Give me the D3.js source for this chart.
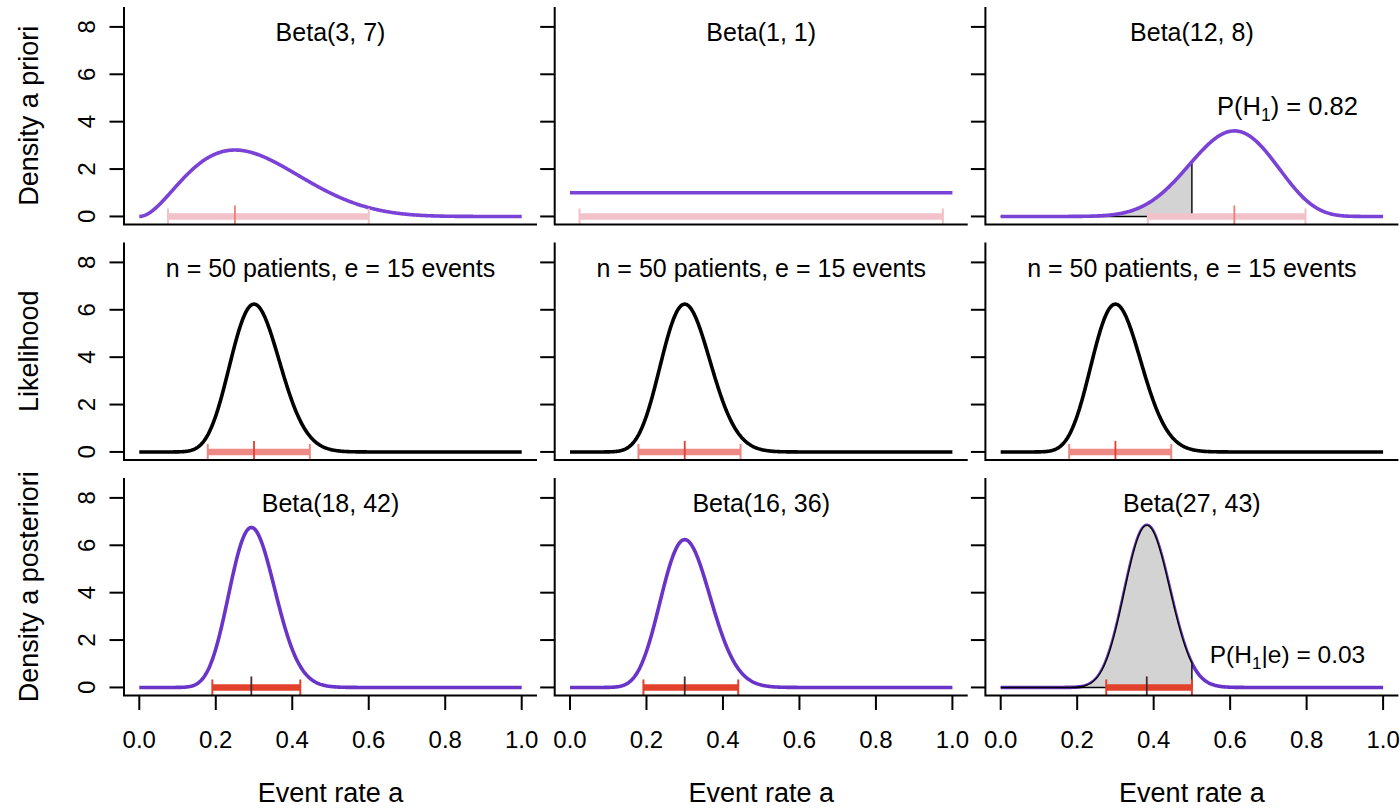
<!DOCTYPE html>
<html>
<head>
<meta charset="utf-8">
<script src="https://cdn.jsdelivr.net/npm/d3@7"></script>
<style>
  html, body { margin: 0; padding: 0; background: #fff; }
  svg { display: block; font-family: "Liberation Sans", Arial, sans-serif; }
</style>
</head>
<body>
<svg id="chart" width="1400" height="808"></svg>
<script>
// ---------------- data ----------------
const rowTitles = ["Density a priori", "Likelihood", "Density a posteriori"];
const xAxisTitle = "Event rate a";
const xTicks = [0, 0.2, 0.4, 0.6, 0.8, 1.0];
const yTicks = [0, 2, 4, 6, 8];

// prior Beta parameters (one per column)
const priorAlpha = [3, 1, 12];
const priorBeta  = [7, 1, 8];
// observed data
const nPatients = 50;
const nEvents = 15;
// posterior Beta parameters
const postAlpha = [18, 16, 27];
const postBeta  = [42, 36, 43];

// 95% intervals and centre marks
const priorLow   = [0.075, 0.025, 0.385];
const priorHigh  = [0.600, 0.975, 0.797];
const priorMode  = [0.25, null, 0.611];
const likeLow    = [0.179, 0.179, 0.179];
const likeHigh   = [0.446, 0.446, 0.446];
const likeCenter = [0.30, 0.30, 0.30];
const postLow    = [0.191, 0.192, 0.276];
const postHigh   = [0.421, 0.440, 0.500];
const postMode   = [0.293, 0.300, 0.382];

// hypothesis shading (only third column)
const shadeUpper = 0.5;
const probPrior = "0.82";
const probPost  = "0.03";

// ---------------- helpers ----------------
const LG = [0.99999999999980993, 676.5203681218851, -1259.1392167224028, 771.32342877765313,
  -176.61502916214059, 12.507343278686905, -0.13857109526572012, 9.9843695780195716e-6, 1.5056327351493116e-7];
function lgamma(z) {
  if (z < 0.5) return Math.log(Math.PI / Math.sin(Math.PI * z)) - lgamma(1 - z);
  z -= 1;
  let x = LG[0];
  for (let i = 1; i < 9; i++) x += LG[i] / (z + i);
  const t = z + 7.5;
  return 0.5 * Math.log(2 * Math.PI) + (z + 0.5) * Math.log(t) - t + Math.log(x);
}
function dbeta(x, a, b) {
  const lb = lgamma(a) + lgamma(b) - lgamma(a + b);
  const t1 = (a === 1) ? 0 : (x <= 0 ? -Infinity : (a - 1) * Math.log(x));
  const t2 = (b === 1) ? 0 : (x >= 1 ? -Infinity : (b - 1) * Math.log(1 - x));
  return Math.exp(t1 + t2 - lb);
}
const grid = d3.range(0, 1.0001, 0.002).map(v => Math.min(v, 1));

// ---------------- layout ----------------
const svg = d3.select("#chart");
const colLeft = c => 124 + c * 430.7;
const rowTop  = r => 7 + r * 235.5;
const panelW = 413, panelH = 217.5;

const purplePrior = "#7A42D6";
const purplePost  = "#6A34C8";
const ciStyles = [
  { bar: "#F2C1C9", cap: "#F2C1C9", mid: "#EC7F73" },
  { bar: "#EE8A85", cap: "#EE8A85", mid: "#E53B2E" },
  { bar: "#E2422C", cap: "#E2422C", mid: "#4A2A2A" }
];

for (let r = 0; r < 3; r++) {
  for (let c = 0; c < 3; c++) {
    const x = d3.scaleLinear().domain([-0.04, 1.04]).range([colLeft(c), colLeft(c) + panelW]);
    const y = d3.scaleLinear().domain([-0.34, 8.84]).range([rowTop(r) + panelH, rowTop(r)]);
    const g = svg.append("g");

    let a, b, color, low, high, mid;
    if (r === 0) { a = priorAlpha[c]; b = priorBeta[c]; color = purplePrior; low = priorLow[c]; high = priorHigh[c]; mid = priorMode[c]; }
    else if (r === 1) { a = nEvents + 1; b = nPatients - nEvents + 1; color = "#000"; low = likeLow[c]; high = likeHigh[c]; mid = likeCenter[c]; }
    else { a = postAlpha[c]; b = postBeta[c]; color = purplePost; low = postLow[c]; high = postHigh[c]; mid = postMode[c]; }

    const pts = grid.map(v => [v, dbeta(v, a, b)]);
    const line = d3.line().x(d => x(d[0])).y(d => y(d[1]));

    const shade = (c === 2 && r !== 1);
    const shadePts = pts.filter(d => d[0] <= shadeUpper);
    const area = [...shadePts, [shadeUpper, 0], [0, 0]];
    const drawShade = () => g.append("path")
      .attr("d", d3.line().x(d => x(d[0])).y(d => y(d[1]))(area) + "Z")
      .attr("fill", "#D3D3D3").attr("stroke", "#000").attr("stroke-width", 1.4);

    if (shade && r === 0) drawShade();
    g.append("path").attr("d", line(pts)).attr("fill", "none")
      .attr("stroke", color).attr("stroke-width", 3.6).attr("stroke-linejoin", "round");
    if (shade && r === 2) drawShade();

    // interval bar
    const st = ciStyles[r];
    const y0 = y(0);
    g.append("line").attr("x1", x(low)).attr("x2", x(high)).attr("y1", y0).attr("y2", y0)
      .attr("stroke", st.bar).attr("stroke-width", 6.5);
    [low, high].forEach(v => g.append("line").attr("x1", x(v)).attr("x2", x(v))
      .attr("y1", y0 - 8).attr("y2", y0 + 8).attr("stroke", st.cap).attr("stroke-width", 2));
    if (mid !== null) g.append("line").attr("x1", x(mid)).attr("x2", x(mid))
      .attr("y1", y0 - 11).attr("y2", y0 + 8).attr("stroke", st.mid).attr("stroke-width", 1.8);

    // L-shaped box
    g.append("path")
      .attr("d", `M${colLeft(c)},${rowTop(r)}V${rowTop(r) + panelH}H${colLeft(c) + panelW}`)
      .attr("fill", "none").attr("stroke", "#000").attr("stroke-width", 2);

    // y axis ticks and labels
    yTicks.forEach(t => {
      g.append("line").attr("x1", colLeft(c) - 14.5).attr("x2", colLeft(c))
        .attr("y1", y(t)).attr("y2", y(t)).attr("stroke", "#000").attr("stroke-width", 2);
      if (c === 0) g.append("text")
        .attr("transform", `translate(${colLeft(c) - 29},${y(t)}) rotate(-90)`)
        .attr("text-anchor", "middle").attr("font-size", 24).attr("fill", "#000").text(t);
    });
    if (c === 0) g.append("text")
      .attr("transform", `translate(${colLeft(c) - 86},${(rowTop(r) + rowTop(r) + panelH) / 2}) rotate(-90)`)
      .attr("text-anchor", "middle").attr("font-size", 27).attr("fill", "#000").text(rowTitles[r]);

    // x axis on bottom row
    if (r === 2) {
      const base = rowTop(r) + panelH;
      xTicks.forEach(t => {
        g.append("line").attr("x1", x(t)).attr("x2", x(t)).attr("y1", base).attr("y2", base + 14.5)
          .attr("stroke", "#000").attr("stroke-width", 2);
        g.append("text").attr("x", x(t)).attr("y", base + 52.5).attr("text-anchor", "middle")
          .attr("font-size", 24).attr("fill", "#000").text(d3.format(".1f")(t));
      });
      g.append("text").attr("x", x(0.5)).attr("y", base + 106.5).attr("text-anchor", "middle")
        .attr("font-size", 27).attr("fill", "#000").text(xAxisTitle);
    }

    // panel title
    const title = r === 1 ? `n = ${nPatients} patients, e = ${nEvents} events` : `Beta(${a}, ${b})`;
    g.append("text").attr("x", x(0.5)).attr("y", y(7.4)).attr("text-anchor", "middle")
      .attr("font-size", 25).attr("fill", "#000").text(title);

    // probability annotations
    if (c === 2 && r !== 1) {
      const t = g.append("text").attr("x", x(0.75)).attr("y", r === 0 ? y(4.28) : y(1.03))
        .attr("text-anchor", "middle").attr("font-size", r === 0 ? 25.5 : 24.5).attr("fill", "#000");
      t.append("tspan").text("P(H");
      t.append("tspan").attr("dy", 6).attr("font-size", r === 0 ? 17.5 : 17).text("1");
      t.append("tspan").attr("dy", -6).text(r === 0 ? `) = ${probPrior}` : `|e) = ${probPost}`);
    }
  }
}
</script>
</body>
</html>
